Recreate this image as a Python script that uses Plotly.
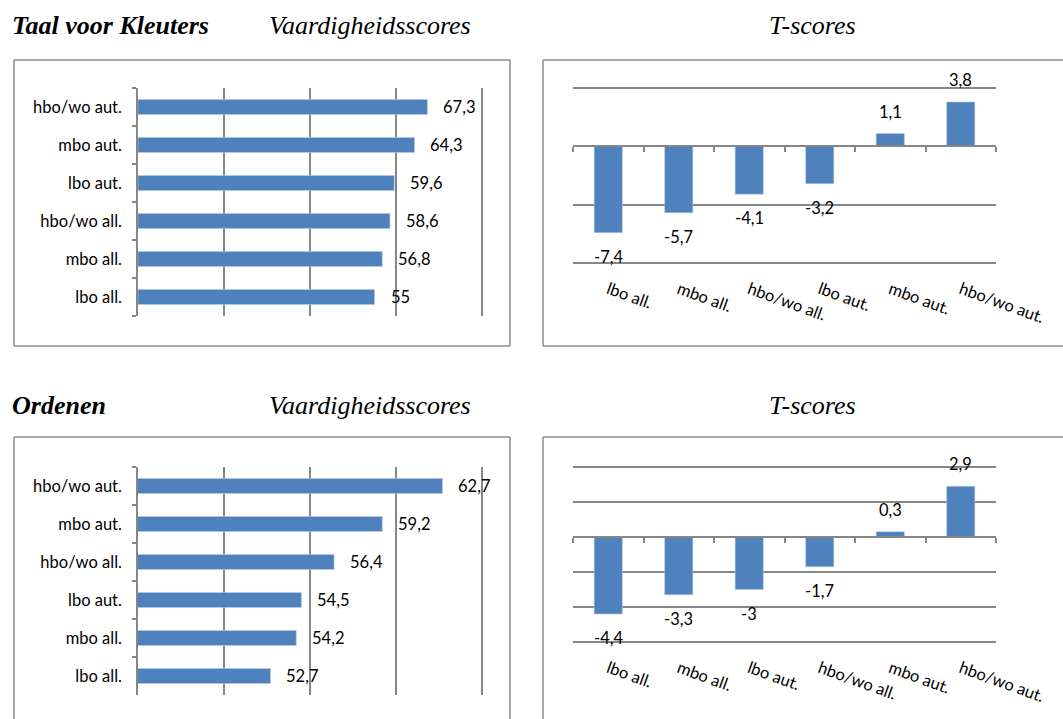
import plotly.graph_objects as go

# ---------------- data ----------------
tk_skill_cats = ["lbo all.", "mbo all.", "hbo/wo all.", "lbo aut.", "mbo aut.", "hbo/wo aut."]
tk_skill_vals = [55, 56.8, 58.6, 59.6, 64.3, 67.3]

tk_t_cats = ["lbo all.", "mbo all.", "hbo/wo all.", "lbo aut.", "mbo aut.", "hbo/wo aut."]
tk_t_vals = [-7.4, -5.7, -4.1, -3.2, 1.1, 3.8]

or_skill_cats = ["lbo all.", "mbo all.", "lbo aut.", "hbo/wo all.", "mbo aut.", "hbo/wo aut."]
or_skill_vals = [52.7, 54.2, 54.5, 56.4, 59.2, 62.7]

or_t_cats = ["lbo all.", "mbo all.", "lbo aut.", "hbo/wo all.", "mbo aut.", "hbo/wo aut."]
or_t_vals = [-4.4, -3.3, -3, -1.7, 0.3, 2.9]

section_titles = ["Taal voor Kleuters", "Ordenen"]
skill_title = "Vaardigheidsscores"
t_title = "T-scores"

# ---------------- styling ----------------
W, H = 1063, 719
BAR = "#4F81BD"
GRID = "#868686"
BORDER = "#8e8e8e"
FONT = "Lato"
LBL_SIZE = 16.5
TITLE_SIZE = 26
PAD = 3  # px of extra room so edge gridlines are drawn


def px_x(x):
    return x / W


def px_y(y):
    return 1 - y / H


def fmt(v):
    return f"{v:g}".replace(".", ",")


fig = go.Figure()

hpanels = [
    (tk_skill_cats, tk_skill_vals, "x", "y", [0, 80], 20, (138, 482, 88, 316)),
    (or_skill_cats, or_skill_vals, "x3", "y3", [45, 65], 5, (138, 482, 467, 695)),
]
vpanels = [
    (tk_t_cats, tk_t_vals, "x2", "y2", "x5", [-10, 5], 5, (573, 996, 88, 263)),
    (or_t_cats, or_t_vals, "x4", "y4", "x6", [-6, 4], 2, (573, 996, 467, 642)),
]

layout = dict(
    width=W, height=H, autosize=False, margin=dict(l=0, r=0, t=0, b=0, pad=0),
    paper_bgcolor="white", plot_bgcolor="white", showlegend=False,
    font=dict(family=FONT, size=LBL_SIZE, color="#000"),
)
annotations = []


def axname(a, kind):
    return kind + "axis" + a[1:]


for cats, vals, xa, ya, rng, dt, (x0, x1, y0, y1) in hpanels:
    fig.add_trace(go.Bar(x=vals, y=cats, orientation="h", xaxis=xa, yaxis=ya,
                         marker=dict(color=BAR, line=dict(color="#b9cde5", width=0.6)),
                         width=0.4, hoverinfo="skip"))
    upp = (rng[1] - rng[0]) / (x1 - x0)
    layout[axname(xa, "x")] = dict(domain=[px_x(x0), px_x(x1 + PAD)],
                                   range=[rng[0], rng[1] + PAD * upp],
                                   tick0=rng[0], dtick=dt, automargin=False,
                                   showgrid=True, gridcolor=GRID, gridwidth=1.5,
                                   showticklabels=False, zeroline=False, showline=False,
                                   anchor=ya)
    layout[axname(ya, "y")] = dict(domain=[px_y(y1), px_y(y0)], type="category",
                                   categoryorder="array", categoryarray=cats,
                                   range=[-0.5, len(cats) - 0.5], automargin=False,
                                   showline=True, linecolor=GRID, linewidth=1.5,
                                   ticks="outside", tickson="boundaries", ticklen=4,
                                   tickcolor=GRID, tickwidth=1.5, showgrid=False,
                                   ticklabelstandoff=11,
                                   tickfont=dict(family=FONT, size=LBL_SIZE), anchor=xa)
    for c, v in zip(cats, vals):
        annotations.append(dict(x=v, y=c, xref=xa, yref=ya, text=fmt(v), showarrow=False,
                                xanchor="left", yanchor="middle", xshift=14,
                                font=dict(family=FONT, size=LBL_SIZE, color="#000")))

for cats, vals, xa, ya, xo, rng, dt, (x0, x1, y0, y1) in vpanels:
    fig.add_trace(go.Bar(x=cats, y=vals, xaxis=xa, yaxis=ya,
                         marker=dict(color=BAR, line=dict(color="#b9cde5", width=0.6)),
                         width=0.4, hoverinfo="skip"))
    fig.add_trace(go.Scatter(x=cats, y=[0 for _ in cats], xaxis=xo, yaxis=ya,
                             mode="markers", marker=dict(opacity=0), hoverinfo="skip"))
    upp = (rng[1] - rng[0]) / (y1 - y0)
    pr = [rng[0] - PAD * upp, rng[1] + PAD * upp]
    dom_y = [px_y(y1 + PAD), px_y(y0 - PAD)]
    layout[axname(xa, "x")] = dict(domain=[px_x(x0), px_x(x1)], type="category",
                                   categoryorder="array", categoryarray=cats,
                                   range=[-0.5, len(cats) - 0.5], automargin=False,
                                   showline=False, ticks="", showgrid=False,
                                   tickangle=20, ticklabelstandoff=10,
                                   tickfont=dict(family=FONT, size=LBL_SIZE), anchor=ya)
    zero_pos = dom_y[0] + (0 - pr[0]) / (pr[1] - pr[0]) * (dom_y[1] - dom_y[0])
    layout[axname(xo, "x")] = dict(domain=[px_x(x0), px_x(x1)], type="category",
                                   categoryorder="array", categoryarray=cats,
                                   range=[-0.5, len(cats) - 0.5], automargin=False,
                                   overlaying=xa, anchor="free", position=zero_pos,
                                   showline=True, linecolor=GRID, linewidth=1.5,
                                   ticks="outside", tickson="boundaries", ticklen=5,
                                   tickcolor=GRID, tickwidth=1.5,
                                   showticklabels=False, showgrid=False)
    layout[axname(ya, "y")] = dict(domain=dom_y, range=pr, tick0=rng[0], dtick=dt,
                                   showgrid=True, gridcolor=GRID, gridwidth=1.5,
                                   showticklabels=False, automargin=False,
                                   zeroline=False, showline=False, anchor=xa)
    for c, v in zip(cats, vals):
        annotations.append(dict(x=c, y=v, xref=xa, yref=ya, text=fmt(v), showarrow=False,
                                xanchor="center", yanchor="middle",
                                yshift=22 if v > 0 else -24,
                                font=dict(family=FONT, size=LBL_SIZE, color="#000")))

serif = "Liberation Serif"
for title, base in zip(section_titles, [26, 405]):
    annotations.append(dict(x=px_x(10), y=px_y(base), xref="paper", yref="paper",
                            text=f"<b><i>{title}</i></b>", showarrow=False,
                            xanchor="left", yanchor="middle",
                            font=dict(family=serif, size=TITLE_SIZE, color="#000")))
    annotations.append(dict(x=px_x(370), y=px_y(base), xref="paper", yref="paper",
                            text=f"<i>{skill_title}</i>", showarrow=False,
                            xanchor="center", yanchor="middle",
                            font=dict(family=serif, size=TITLE_SIZE, color="#000")))
    annotations.append(dict(x=px_x(812), y=px_y(base), xref="paper", yref="paper",
                            text=f"<i>{t_title}</i>", showarrow=False,
                            xanchor="center", yanchor="middle",
                            font=dict(family=serif, size=TITLE_SIZE, color="#000")))

shapes = []
segments = [
    (14, 60, 510, 60), (14, 60, 14, 346), (510, 60, 510, 346), (14, 346, 510, 346),
    (543, 60, W, 60), (543, 60, 543, 346), (543, 346, W, 346),
    (14, 437, 510, 437), (14, 437, 14, H), (510, 437, 510, H),
    (543, 437, W, 437), (543, 437, 543, H),
]
for sx0, sy0, sx1, sy1 in segments:
    shapes.append(dict(type="line", xref="paper", yref="paper",
                       x0=px_x(sx0), y0=px_y(sy0), x1=px_x(sx1), y1=px_y(sy1),
                       line=dict(color=BORDER, width=1.5), layer="below"))

layout["annotations"] = annotations
layout["shapes"] = shapes
layout["bargap"] = 0.6
fig.update_layout(**layout)

fig.write_html("out.html", config={"responsive": False})
